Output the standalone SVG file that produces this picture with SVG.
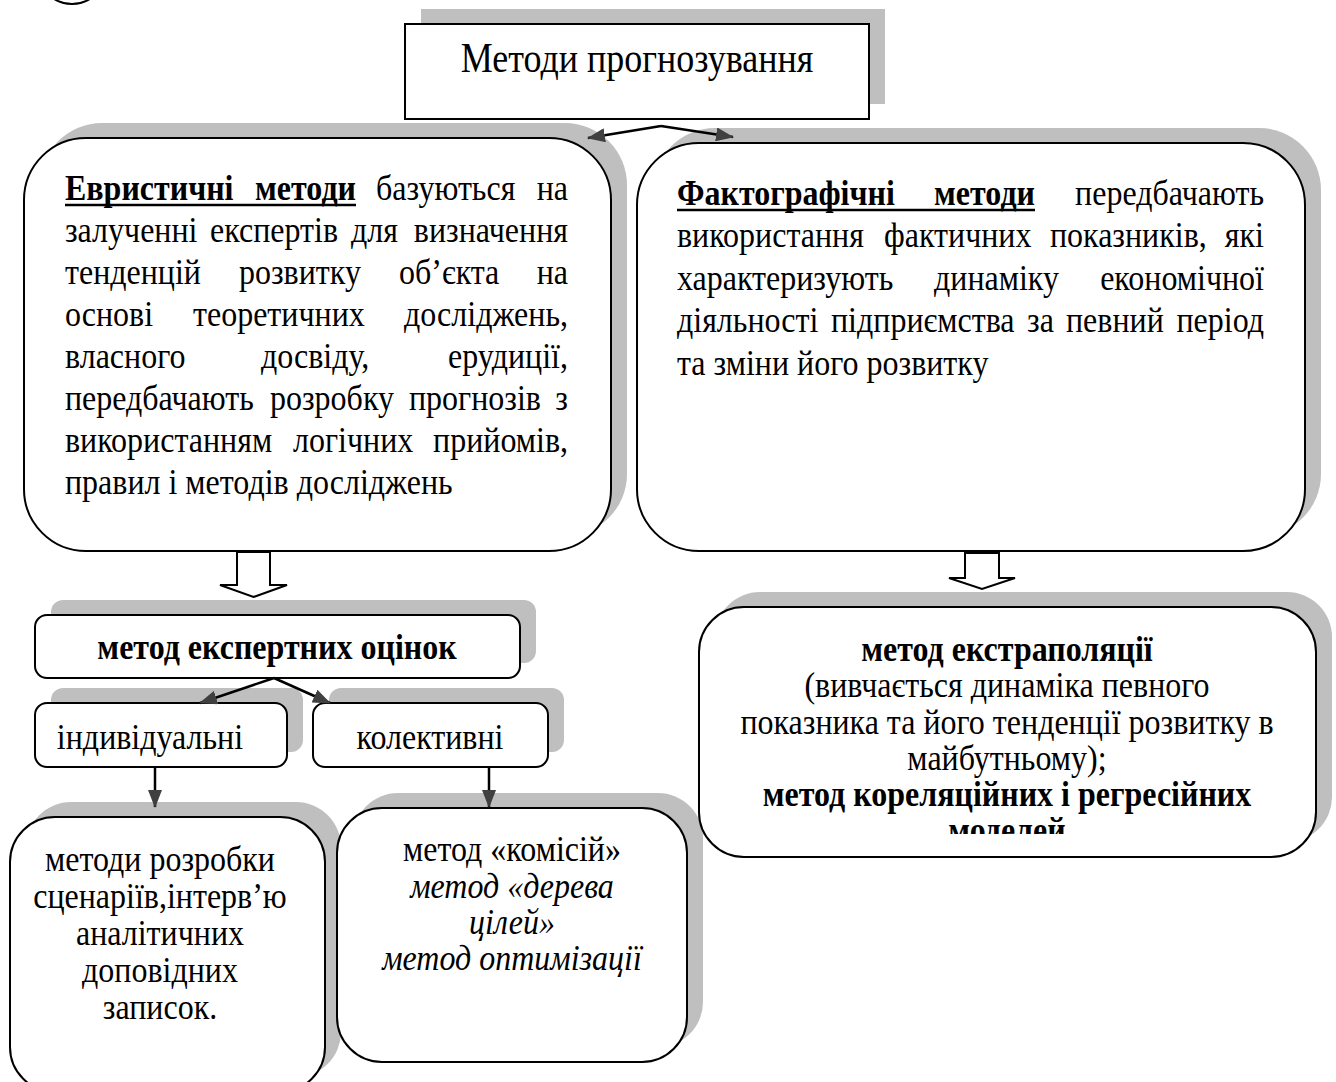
<svg xmlns="http://www.w3.org/2000/svg" width="1336" height="1082" viewBox="0 0 1336 1082">
<defs>
<style>
.sh{fill:#bfbfbf;stroke:none}
.bx{fill:#fff;stroke:#000;stroke-width:2}
.t{font-family:"Liberation Serif","Times New Roman",serif;font-size:32px;fill:#000;transform-box:fill-box;transform-origin:50% 50%;transform:scaleY(1.15)}
.b{font-weight:bold}
.i{font-style:italic}
.c{text-anchor:middle}
.e{text-anchor:end}
.ln{stroke:#000;stroke-width:2.5;fill:none}
.ul{stroke:#000;stroke-width:2.5}
.ha{fill:#fff;stroke:#000;stroke-width:2}
</style>
<marker id="ah" markerUnits="userSpaceOnUse" markerWidth="18" markerHeight="14" viewBox="0 0 18 14" refX="17" refY="7" orient="auto"><path d="M0,0 L18,7 L0,14 z" fill="#404040"/></marker>
<clipPath id="clipR"><rect x="699" y="600" width="617" height="234"/></clipPath>
</defs>
<rect width="1336" height="1082" fill="#fff"/>
<circle cx="72" cy="-30" r="34" fill="none" stroke="#000" stroke-width="2"/>

<g id="node-title">
<rect class="sh" x="421" y="9" width="464" height="95"/>
<rect class="bx" x="405" y="24" width="464" height="95"/>
<text class="t c" x="637" y="70" style="font-size:36px">Методи прогнозування</text>
</g>

<g id="node-heuristic">
<rect class="sh" x="40" y="123" width="587" height="413" rx="62"/>
<rect class="bx" x="24" y="138" width="587" height="413" rx="62"/>
<text class="t b" x="65" y="198">Евристичні</text>
<text class="t b e" x="356" y="198">методи</text>
<text class="t" x="376" y="198">базуються</text>
<text class="t e" x="568" y="198">на</text>
<line class="ul" x1="65" y1="205" x2="356" y2="205"/>
<text class="t" y="240"><tspan x="65">залученні</tspan><tspan x="210">експертів</tspan><tspan x="351">для</tspan></text>
<text class="t e" x="568" y="240">визначення</text>
<text class="t" y="282"><tspan x="65">тенденцій</tspan><tspan x="239">розвитку</tspan><tspan x="399">об’єкта</tspan></text>
<text class="t e" x="568" y="282">на</text>
<text class="t" y="324"><tspan x="65">основі</tspan><tspan x="193">теоретичних</tspan></text>
<text class="t e" x="568" y="324">досліджень,</text>
<text class="t" y="366"><tspan x="65">власного</tspan><tspan x="261">досвіду,</tspan></text>
<text class="t e" x="568" y="366">ерудиції,</text>
<text class="t" y="408"><tspan x="65">передбачають</tspan><tspan x="270">розробку</tspan><tspan x="409">прогнозів</tspan></text>
<text class="t e" x="568" y="408">з</text>
<text class="t" y="450"><tspan x="65">використанням</tspan><tspan x="293">логічних</tspan></text>
<text class="t e" x="568" y="450">прийомів,</text>
<text class="t" x="65" y="492">правил і методів досліджень</text>
</g>

<g id="node-factographic">
<rect class="sh" x="653" y="128" width="668" height="408" rx="62"/>
<rect class="bx" x="637" y="143" width="668" height="408" rx="62"/>
<text class="t b" x="677" y="203">Фактографічні</text>
<text class="t b e" x="1035" y="203">методи</text>
<text class="t e" x="1264" y="203">передбачають</text>
<line class="ul" x1="677" y1="210" x2="1035" y2="210"/>
<text class="t" y="245"><tspan x="677">використання</tspan><tspan x="884">фактичних</tspan><tspan x="1050">показників,</tspan></text>
<text class="t e" x="1264" y="245">які</text>
<text class="t" y="288"><tspan x="677">характеризують</tspan><tspan x="934">динаміку</tspan></text>
<text class="t e" x="1264" y="288">економічної</text>
<text class="t" y="330"><tspan x="677">діяльності</tspan><tspan x="831">підприємства</tspan><tspan x="1027">за</tspan><tspan x="1066">певний</tspan></text>
<text class="t e" x="1264" y="330">період</text>
<text class="t" x="677" y="373">та зміни його розвитку</text>
</g>

<g id="node-expert">
<rect class="sh" x="51" y="600" width="485" height="63" rx="12"/>
<rect class="bx" x="35" y="615" width="485" height="63" rx="12"/>
<text class="t c b" x="277" y="657">метод експертних оцінок</text>
</g>

<g id="node-individual">
<rect class="sh" x="51" y="688" width="252" height="64" rx="12"/>
<rect class="bx" x="35" y="703" width="252" height="64" rx="12"/>
<text class="t c" x="150" y="747">індивідуальні</text>
</g>

<g id="node-collective">
<rect class="sh" x="329" y="688" width="235" height="64" rx="12"/>
<rect class="bx" x="313" y="703" width="235" height="64" rx="12"/>
<text class="t c" x="430" y="747">колективні</text>
</g>

<g id="node-scenarios">
<rect class="sh" x="26" y="802" width="315" height="275" rx="45"/>
<rect class="bx" x="10" y="817" width="315" height="275" rx="45"/>
<text class="t c" x="160" y="869">методи розробки</text>
<text class="t c" x="160" y="906">сценаріїв,інтерв’ю</text>
<text class="t c" x="160" y="943">аналітичних</text>
<text class="t c" x="160" y="980">доповідних</text>
<text class="t c" x="160" y="1017">записок.</text>
</g>

<g id="node-commissions">
<rect class="sh" x="353" y="793" width="350" height="254" rx="45"/>
<rect class="bx" x="337" y="808" width="350" height="254" rx="45"/>
<text class="t c" x="512" y="859">метод «комісій»</text>
<text class="t c i" x="512" y="896">метод «дерева</text>
<text class="t c i" x="512" y="932">цілей»</text>
<text class="t c i" x="512" y="968">метод оптимізації</text>
</g>

<g id="node-extrapolation">
<rect class="sh" x="715" y="592" width="617" height="250" rx="45"/>
<rect class="bx" x="699" y="607" width="617" height="250" rx="45"/>
<g clip-path="url(#clipR)">
<text class="t c b" x="1007" y="659">метод екстраполяції</text>
<text class="t c" x="1007" y="695">(вивчається динаміка певного</text>
<text class="t c" x="1007" y="732">показника та його тенденції розвитку в</text>
<text class="t c" x="1007" y="768">майбутньому);</text>
<text class="t c b" x="1007" y="804">метод кореляційних і регресійних</text>
<text class="t c b" x="1007" y="840">моделей</text>
</g>
</g>

<g id="connectors">
<line class="ln" x1="661" y1="126" x2="588" y2="138" marker-end="url(#ah)"/>
<line class="ln" x1="661" y1="126" x2="733" y2="137" marker-end="url(#ah)"/>
<polygon class="ha" points="237,552 270,552 270,585 287,585 253.5,597 220,585 237,585"/>
<polygon class="ha" points="965,553 999,553 999,578 1015,578 982,589 949,578 965,578"/>
<line class="ln" x1="274" y1="678" x2="200" y2="703" marker-end="url(#ah)"/>
<line class="ln" x1="274" y1="678" x2="330" y2="703" marker-end="url(#ah)"/>
<line class="ln" x1="155" y1="767" x2="155" y2="807" marker-end="url(#ah)"/>
<line class="ln" x1="489" y1="767" x2="489" y2="807" marker-end="url(#ah)"/>
</g>
</svg>
